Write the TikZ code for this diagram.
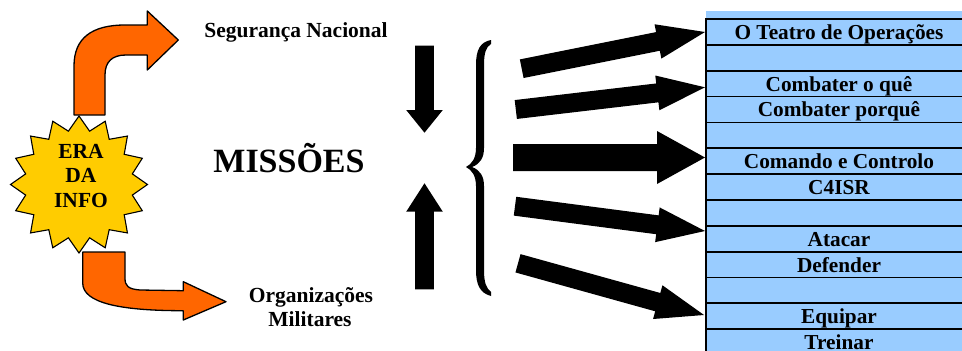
\documentclass[tikz,border=0pt]{standalone}
\usepackage{fontspec}
\setmainfont{Liberation Serif}
\usetikzlibrary{calc,shapes.geometric}
\definecolor{tblue}{HTML}{99CCFF}
\definecolor{torange}{HTML}{FF6600}
\definecolor{tyellow}{HTML}{FFCC00}
% #1 tail, #2 tip, #3 shaft half width, #4 head half width, #5 head length
\newcommand\blockarrow[5]{%
  \path ($(#2)!#5!(#1)$) coordinate (hb);
  \fill[black] (#2) -- ($(hb)!#4!90:(#2)$) -- ($(hb)!#3!90:(#2)$)
    -- ($(#1)!#3!90:(#2)$) -- ($(#1)!#3!-90:(#2)$)
    -- ($(hb)!#3!-90:(#2)$) -- ($(hb)!#4!-90:(#2)$) -- cycle;}
\begin{document}
\begin{tikzpicture}[x=1pt,y=-1pt,
  lbl/.style={font=\fontsize{21.5}{24}\selectfont\bfseries, inner sep=0pt, anchor=base},
  row/.style={draw, line width=1.8pt, fill=tblue, minimum width=266pt,
    minimum height=25.85pt, inner sep=0pt, text height=20pt, text depth=5pt,
    font=\fontsize{21.3}{24}\selectfont\bfseries},
  orangearrow/.style={fill=torange, draw=black, line width=1.3pt, line join=round},
  starbox/.style={star, star points=16, star point ratio=1.26, minimum size=137pt,
    inner sep=0pt, fill=tyellow, draw=black, line width=1.1pt}]
\useasboundingbox (0,0) rectangle (962,351);
\clip (0,0) rectangle (962,351);

% table
\fill[tblue] (706,11) rectangle (972,19);
\foreach \i/\t in {1/O Teatro de Operações,2/,3/Combater o quê,4/Combater porquê,5/,
  6/Comando e Controlo,7/C4ISR,8/,9/Atacar,10/Defender,11/,12/Equipar,13/Treinar}
  \node[row] (r\i) at (839,{19+25.85*(\i-0.5)}) {\t};

% orange arrows
\draw[orangearrow] (74,115) -- (74,66) .. controls (74,38) and (92,25) .. (125,25)
  -- (147.3,25) -- (147.3,11) -- (178.3,40) -- (147.3,70) -- (147.3,55) -- (126,55)
  .. controls (112,55) and (105,62) .. (105,75) -- (105,115) -- cycle;
\draw[orangearrow] (82.7,252) -- (82.7,283) .. controls (82.7,303) and (120,310.7) .. (183.3,310.7)
  -- (183.3,320) -- (226,301.7) -- (183.3,281.7) -- (183.3,290.7) -- (140,290)
  .. controls (128,289) and (125,286) .. (125,278) -- (125,252) -- cycle;

% star
\node[starbox] (star) at (79,184.5) {};
\node[lbl] (era1) at (81,158) {ERA};
\node[lbl] (era2) at (81,182.5) {DA};
\node[lbl] (era3) at (81,207) {INFO};

% labels
\node[lbl] (seg) at (296,37.7) {Segurança Nacional};
\node[lbl, font=\fontsize{34}{36}\selectfont\bfseries] (mis) at (289,172.7) {MISSÕES};
\node[lbl] (org1) at (311,302.7) {Organizações};
\node[lbl] (org2) at (310,326.7) {Militares};

% vertical arrows
\coordinate (dt) at (424.5,45.5);  \coordinate (dp) at (424.5,132.7);
\coordinate (ut) at (424.5,289.3); \coordinate (up) at (424.5,183.3);
\blockarrow{dt}{dp}{9.3pt}{18.3pt}{22.7pt}
\blockarrow{ut}{up}{9.3pt}{18.3pt}{28.4pt}

% brace
\fill[black] (491,40) .. controls (480,42) and (476,50) .. (476,65) -- (476,148)
  .. controls (476,158) and (472,164) .. (466,167)
  .. controls (472,170) and (476,176) .. (476,186) -- (476,270)
  .. controls (476,285) and (480,293) .. (491,296)
  -- (491,292) .. controls (486,288) and (484,282) .. (484,270) -- (484,186)
  .. controls (484,176) and (480,170) .. (472,167)
  .. controls (480,164) and (484,158) .. (484,148) -- (484,65)
  .. controls (484,53) and (486,47) .. (491,44) -- cycle;

% fan of arrows to the table
\coordinate (a1) at (521.7,68.7);  \coordinate (b1) at (705,32);
\coordinate (a2) at (515.8,109.5); \coordinate (b2) at (705,87.3);
\coordinate (a3) at (513,157.5);   \coordinate (b3) at (705,157.5);
\coordinate (a4) at (515,206.2);   \coordinate (b4) at (705,231);
\coordinate (a5) at (518,263.3);   \coordinate (b5) at (704,315);
\blockarrow{a1}{b1}{9.5pt}{17.5pt}{48pt}
\blockarrow{a2}{b2}{9.5pt}{17.5pt}{48pt}
\blockarrow{a3}{b3}{13.5pt}{26.5pt}{48pt}
\blockarrow{a4}{b4}{9.5pt}{17.5pt}{48pt}
\blockarrow{a5}{b5}{9.5pt}{17.5pt}{48pt}
\end{tikzpicture}
\end{document}
